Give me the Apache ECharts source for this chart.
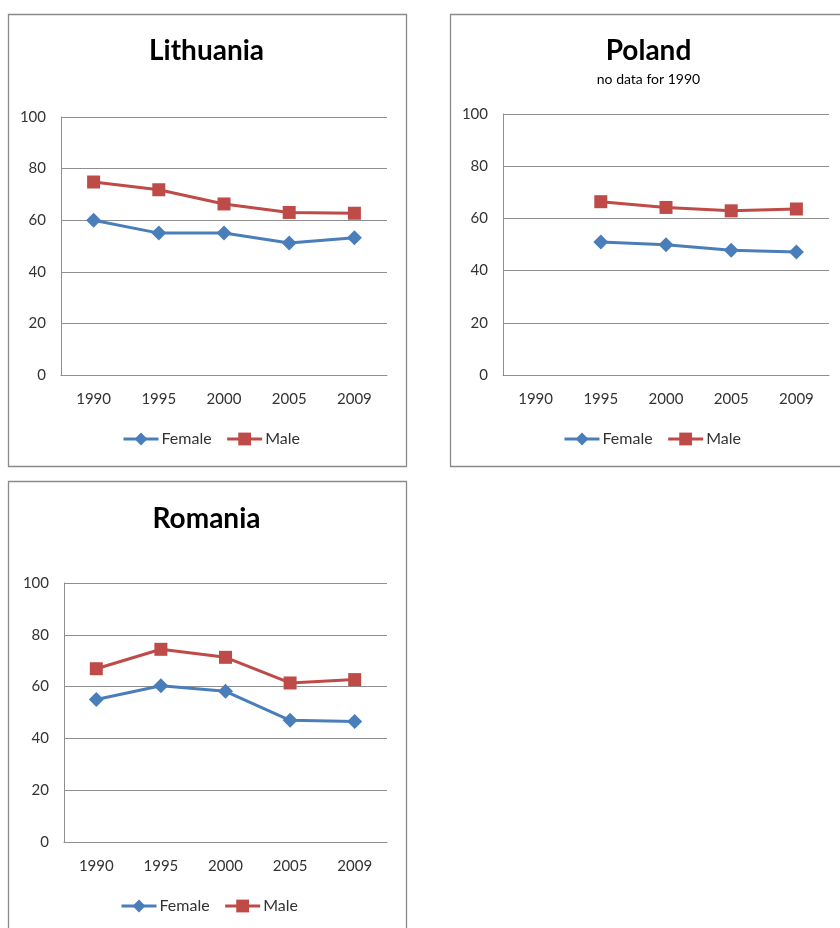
<!DOCTYPE html>
<html>
<head>
<meta charset="utf-8">
<script src="https://cdn.jsdelivr.net/npm/echarts@6/dist/echarts.min.js"></script>
<style>
  html, body { margin: 0; padding: 0; background: #ffffff; }
  #chart { width: 840px; height: 928px; }
</style>
</head>
<body>
<div id="chart"></div>
<script>
// Employment rate by sex, selected countries
const years = ['1990', '1995', '2000', '2005', '2009'];
const yTicks = [0, 20, 40, 60, 80, 100];

const lithuaniaFemale = [60, 55, 55, 51.2, 53.2];
const lithuaniaMale   = [74.8, 71.8, 66.3, 63.0, 62.7];

// Poland: no data for 1990
const polandFemale = [null, 51.0, 49.9, 47.8, 47.1];
const polandMale   = [null, 66.4, 64.2, 62.9, 63.6];

const romaniaFemale = [55.0, 60.3, 58.2, 47.0, 46.5];
const romaniaMale   = [66.9, 74.4, 71.3, 61.4, 62.7];

const FONT = 'Lato, "Open Sans", sans-serif';
const BLUE = '#4A7EBB';
const RED = '#BE4B48';
const GRID_COLOR = '#8E8E8E';

const panels = [
  { name: 'Lithuania', sub: '', female: lithuaniaFemale, male: lithuaniaMale,
    box: { x: 8.5, y: 14.5, w: 398, h: 452 },
    grid: { left: 61, top: 117, width: 326, height: 258 },
    titleTop: 37, legendLeft: 122, legendTop: 431 },
  { name: 'Poland', sub: 'no data for 1990', female: polandFemale, male: polandMale,
    box: { x: 450.5, y: 14.5, w: 398, h: 452 },
    grid: { left: 503, top: 114, width: 326, height: 261 },
    titleTop: 37, legendLeft: 563, legendTop: 431 },
  { name: 'Romania', sub: '', female: romaniaFemale, male: romaniaMale,
    box: { x: 8.5, y: 481.5, w: 398, h: 470 },
    grid: { left: 64, top: 583, width: 323, height: 259 },
    titleTop: 505, legendLeft: 120, legendTop: 898 }
];

const option = {
  backgroundColor: '#ffffff',
  animation: false,
  graphic: panels.map(p => ({
    type: 'rect',
    shape: { x: p.box.x, y: p.box.y, width: p.box.w, height: p.box.h },
    style: { fill: 'none', stroke: '#8A8A8A', lineWidth: 1.3 },
    z: -1
  })),
  title: [],
  legend: [],
  grid: [],
  xAxis: [],
  yAxis: [],
  series: []
};

panels.forEach((p, i) => {
  const cx = p.box.x + p.box.w / 2 - 1;
  option.title.push({
    text: p.name,
    subtext: p.sub,
    left: cx,
    top: p.titleTop,
    padding: 0,
    textAlign: 'center',
    itemGap: 7,
    textStyle: { fontFamily: FONT, fontWeight: 'bold', fontSize: 28, color: '#000000' },
    subtextStyle: { fontFamily: FONT, fontSize: 14, color: '#000000' }
  });
  option.legend.push({
    data: ['Female', 'Male'],
    left: p.legendLeft,
    top: p.legendTop,
    padding: 0,
    itemWidth: 35,
    itemHeight: 16,
    itemGap: 14,
    lineStyle: { width: 3 },
    textStyle: { fontFamily: FONT, fontSize: 16, color: '#333333', padding: [0, 0, 0, -2] },
    selectedMode: false
  });
  option.grid.push(Object.assign({ containLabel: false }, p.grid));
  option.xAxis.push({
    type: 'category',
    gridIndex: i,
    data: years,
    boundaryGap: true,
    axisLine: { show: true, lineStyle: { color: GRID_COLOR, width: 1 } },
    axisTick: { show: false },
    axisLabel: { fontFamily: FONT, fontSize: 15, color: '#333333', margin: 17 }
  });
  option.yAxis.push({
    type: 'value',
    gridIndex: i,
    min: yTicks[0],
    max: yTicks[yTicks.length - 1],
    interval: yTicks[1] - yTicks[0],
    axisLine: { show: true, lineStyle: { color: GRID_COLOR, width: 1 } },
    axisTick: { show: false },
    splitLine: { show: true, lineStyle: { color: GRID_COLOR, width: 1 } },
    axisLabel: { fontFamily: FONT, fontSize: 15, color: '#333333', margin: 15 }
  });
  option.series.push({
    name: 'Female',
    type: 'line',
    xAxisIndex: i,
    yAxisIndex: i,
    data: p.female,
    symbol: 'diamond',
    symbolSize: 15,
    connectNulls: false,
    lineStyle: { color: BLUE, width: 3 },
    itemStyle: { color: BLUE }
  });
  option.series.push({
    name: 'Male',
    type: 'line',
    xAxisIndex: i,
    yAxisIndex: i,
    data: p.male,
    symbol: 'rect',
    symbolSize: 13,
    connectNulls: false,
    lineStyle: { color: RED, width: 3 },
    itemStyle: { color: RED }
  });
});

const chart = echarts.init(document.getElementById('chart'), null, { renderer: 'canvas' });
chart.setOption(option);
</script>
</body>
</html>
